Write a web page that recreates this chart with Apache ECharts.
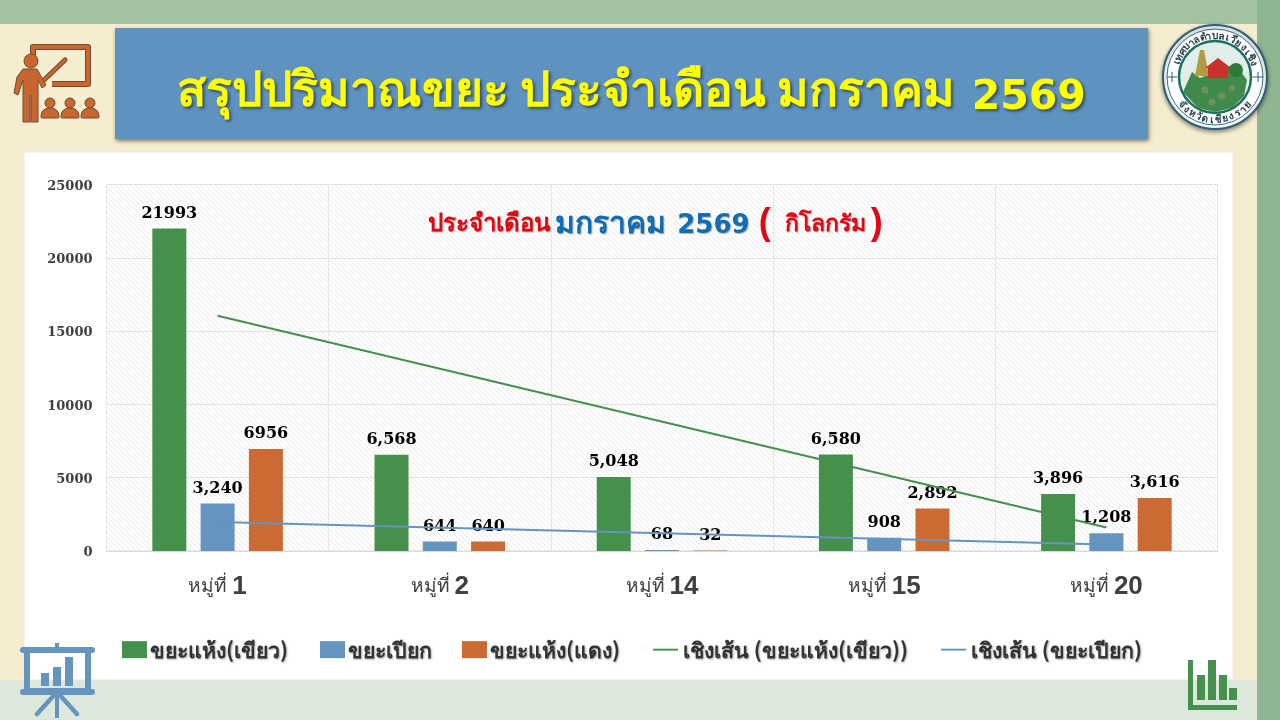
<!DOCTYPE html>
<html><head><meta charset="utf-8">
<style>html,body{margin:0;padding:0;background:#a3c2a1;overflow:hidden}#c{width:1280px;height:720px}</style>
<script src="https://cdn.jsdelivr.net/npm/echarts@6/dist/echarts.min.js"></script></head>
<body><div id="c"></div>
<script>
var categories=['1','2','14','15','20'];
var dryGreen=[21993,6568,5048,6580,3896];
var wet=[3240,644,68,908,1208];
var dryRed=[6956,640,32,2892,3616];
var dryGreenLabels=['21993','6,568','5,048','6,580','3,896'];
var wetLabels=['3,240','644','68','908','1,208'];
var dryRedLabels=['6956','640','32','2,892','3,616'];
var trendGreen=[16050,null,null,null,1600];
var trendWet=[1970,null,null,null,450];
var names=['ขยะแห้ง(เขียว)','ขยะเปียก','ขยะแห้ง(แดง)','เชิงเส้น (ขยะแห้ง(เขียว))','เชิงเส้น (ขยะเปียก)'];
var legendLeft=[117,315,457,648,936];
var THAI='Noto Sans CJK SC, Noto Sans';
var GREEN='#46904e',BLUE='#6595bf',ORANGE='#cb6a33';

var hatch=document.createElement('canvas');hatch.width=5;hatch.height=5;
var hc=hatch.getContext('2d');hc.fillStyle='#ffffff';hc.fillRect(0,0,5,5);hc.strokeStyle='#e9e9e9';hc.lineWidth=1;
hc.beginPath();hc.moveTo(-1,-1);hc.lineTo(6,6);hc.moveTo(-1,4);hc.lineTo(1,6);hc.moveTo(4,-1);hc.lineTo(6,1);hc.stroke();

function bar(i,vals,labels,color){return {name:names[i],type:'bar',data:vals,barWidth:34,barGap:'42%',itemStyle:{color:color},z:2,
 label:{show:true,position:'top',distance:7,color:'#000',fontFamily:'DejaVu Serif',fontWeight:'bold',fontSize:16,formatter:function(p){return labels[p.dataIndex];}}};}
function trend(i,vals,color){return {name:names[i],type:'line',data:vals,connectNulls:true,symbol:'none',silent:true,z:4,lineStyle:{color:color,width:2},itemStyle:{color:color}};}

// decorative artwork
var deco=[];
function add(type,shape,style,z){deco.push({type:type,silent:true,z:z===undefined?6:z,shape:shape,style:style});}
var OR='#c9662f',DK='#6f4b36';
add('polyline',{points:[[33,57],[33,47],[88,47],[88,84],[52,84]]},{stroke:DK,lineWidth:6,fill:null,lineJoin:'round'});
add('polyline',{points:[[33,57],[33,47],[88,47],[88,84],[52,84]]},{stroke:OR,lineWidth:4,fill:null,lineJoin:'round'});
add('line',{x1:44,y1:80,x2:65,y2:60},{stroke:DK,lineWidth:5,lineCap:'round'});
add('line',{x1:44,y1:80,x2:65,y2:60},{stroke:OR,lineWidth:3,lineCap:'round'});
add('polygon',{points:[[23,69],[37,69],[46,85],[42,88],[38,80],[38,122],[31,122],[31,95],[30,95],[30,122],[23,122],[23,80],[18,95],[14,93],[17,77]]},{fill:OR,stroke:DK,lineWidth:1});
add('circle',{cx:31,cy:61,r:7},{fill:OR,stroke:DK,lineWidth:1});
[50,70,90].forEach(function(x){
 add('circle',{cx:x,cy:103,r:5},{fill:OR,stroke:DK,lineWidth:1});
 add('rect',{x:x-9,y:108,width:18,height:10,r:[8,8,1,1]},{fill:OR,stroke:DK,lineWidth:1});
});
// presentation icon
add('line',{x1:57,y1:643,x2:57,y2:649},{stroke:BLUE,lineWidth:4});
add('line',{x1:57,y1:692,x2:57,y2:718},{stroke:BLUE,lineWidth:4});
add('rect',{x:27,y:650,width:61,height:41},{fill:null,stroke:BLUE,lineWidth:6});
add('rect',{x:20,y:647,width:75,height:6,r:3},{fill:BLUE});
add('rect',{x:20,y:689,width:75,height:6,r:3},{fill:BLUE});
add('line',{x1:57,y1:692,x2:37,y2:714},{stroke:BLUE,lineWidth:4.5,lineCap:'round'});
add('line',{x1:57,y1:692,x2:77,y2:714},{stroke:BLUE,lineWidth:4.5,lineCap:'round'});
[[41,673,13],[53,667,19],[65,657,29]].forEach(function(b){add('rect',{x:b[0],y:b[1],width:8,height:b[2]},{fill:BLUE});});
// bars icon
add('rect',{x:1188,y:660,width:5,height:50},{fill:GREEN});
add('rect',{x:1188,y:705,width:49,height:5},{fill:GREEN});
[[1197,675],[1208,660],[1219,675],[1229,688]].forEach(function(b){add('rect',{x:b[0],y:b[1],width:8,height:700-b[1]},{fill:GREEN});});
// seal
var CX=1215,CY=77;
add('circle',{cx:CX,cy:CY,r:52},{fill:'#ffffff',stroke:'#2f5f78',lineWidth:2,shadowBlur:4,shadowColor:'rgba(0,0,0,0.4)',shadowOffsetY:2});
add('circle',{cx:CX,cy:CY,r:48},{fill:null,stroke:'#2f6f80',lineWidth:1});
add('circle',{cx:CX,cy:CY,r:36},{fill:'#dfeee6',stroke:'#1f6f5f',lineWidth:2.5});
add('polygon',{points:[[1183,92],[1192,72],[1200,78],[1215,72],[1235,64],[1247,80],[1244,96],[1232,108],[1215,112],[1198,108]]},{fill:'#3f8a4a'});
add('polygon',{points:[[1195,76],[1200,50],[1204,50],[1209,76]]},{fill:'#b59a45'});
add('rect',{x:1208,y:67,width:20,height:11},{fill:'#c7332b'});
add('polygon',{points:[[1205,68],[1218,58],[1231,68]]},{fill:'#c7332b'});
add('circle',{cx:1236,cy:70,r:7},{fill:'#2f7a3a'});
[[1205,90],[1222,96],[1212,102],[1232,88]].forEach(function(p){add('circle',{cx:p[0],cy:p[1],r:3.5},{fill:'#6f8f5f'});});
[CX-43,CX+43].forEach(function(x){
 add('line',{x1:x-5,y1:CY,x2:x+5,y2:CY},{stroke:'#2f5f78',lineWidth:1});
 add('line',{x1:x,y1:CY-5,x2:x,y2:CY+5},{stroke:'#2f5f78',lineWidth:1});
});
function arcText(txt,a0,a1,r,flip){
 var cl=txt.match(/.[\u0E31\u0E34-\u0E3A\u0E47-\u0E4E]*/g);
 cl.forEach(function(c,i){
  var a=(a0+(a1-a0)*i/(cl.length-1))*Math.PI/180;
  deco.push({type:'text',silent:true,z:7,x:CX+r*Math.cos(a),y:CY+r*Math.sin(a),rotation:flip?-(a-Math.PI/2):-(a+Math.PI/2),
   style:{text:c,fill:'#27404f',fontSize:10,fontWeight:'bold',fontFamily:THAI,align:'center',verticalAlign:'middle'}});
 });
}
arcText('เทศบาลตำบลเวียงเชิง',-160,-20,42,false);
arcText('จังหวัดเชียงราย',140,40,42,true);

var sh={textShadowColor:'rgba(0,0,0,0.3)',textShadowBlur:1,textShadowOffsetX:1,textShadowOffsetY:1};
function st(o){return Object.assign({},sh,o);}
var legends=names.map(function(n,i){return {left:legendLeft[i],top:634,itemWidth:25,itemHeight:17,
  data:[{name:n,icon:i<3?'rect':'path://M0 0H26V2H0Z'}],
  textStyle:{color:'#333',fontSize:21.3,fontWeight:'bold',fontFamily:THAI,padding:[0,0,0,i<3?-2:0],textShadowColor:'rgba(0,0,0,0.35)',textShadowBlur:2,textShadowOffsetX:1,textShadowOffsetY:1}};});

var chart=echarts.init(document.getElementById('c'),null,{renderer:'canvas'});
chart.setOption({
 animation:false,
 backgroundColor:'#a3c2a1',
 grid:{left:106.5,right:62.5,top:184.5,bottom:169,show:true,backgroundColor:{image:hatch,repeat:'repeat'},borderColor:'#dcdcdc',borderWidth:1},
 title:{show:true,left:428,top:202,padding:0,text:'{a|ประจำเดือน }{b|มกราคม }{d|2569 }{c|(}{e|กิโลกรัม}{f|)}',
  textStyle:{rich:{a:st({color:'#e30613',fontSize:24,fontWeight:'bold',fontFamily:THAI}),
   b:st({color:'#0e6db3',fontSize:30,fontWeight:'bold',fontFamily:THAI}),
   d:st({color:'#0e6db3',fontSize:26,fontWeight:'bold',fontFamily:'DejaVu Sans',padding:[8,0,0,4]}),
   e:st({color:'#e30613',fontSize:23,fontWeight:'bold',fontFamily:THAI,padding:[0,0,0,14]}),
   c:{color:'#e30613',fontSize:36,fontWeight:'bold',fontFamily:'Liberation Sans',padding:[4,0,0,0]},
   f:{color:'#e30613',fontSize:36,fontWeight:'bold',fontFamily:'Liberation Sans',padding:[4,0,0,5]}}}},
 legend:legends,
 xAxis:{type:'category',data:categories,axisLine:{lineStyle:{color:'#d9d9d9'}},axisTick:{show:false},splitLine:{show:true,lineStyle:{color:'#e6e6e6'}},
  axisLabel:{margin:23,formatter:function(v){return '{t|หมู่ที่ }{n|'+v+'}';},rich:{t:{fontSize:19,color:'#404040',fontFamily:'Noto Sans'},n:{fontSize:26,fontWeight:'bold',color:'#404040',fontFamily:'Liberation Sans'}}}},
 yAxis:{type:'value',min:0,max:25000,interval:5000,axisLine:{show:false},axisTick:{show:false},splitLine:{lineStyle:{color:'#e2e2e2'}},
  axisLabel:{margin:14,formatter:function(v){return '{v|'+v+'}';},rich:{v:{color:'#404040',fontSize:13,fontWeight:'bold',fontFamily:'DejaVu Serif',padding:[4,0,0,0]}}}},
 series:[bar(0,dryGreen,dryGreenLabels,GREEN),bar(1,wet,wetLabels,BLUE),bar(2,dryRed,dryRedLabels,ORANGE),trend(3,trendGreen,GREEN),trend(4,trendWet,BLUE)],
 graphic:{elements:[
  {type:'rect',z:-11,silent:true,shape:{x:1257,y:0,width:23,height:720},style:{fill:'#8fb592'}},
  {type:'rect',z:-10,silent:true,shape:{x:0,y:24,width:1257,height:656},style:{fill:'#f4edcf'}},
  {type:'rect',z:-9,silent:true,shape:{x:0,y:680,width:1257,height:40},style:{fill:'#dce8dc'}},
  {type:'rect',z:-8,silent:true,shape:{x:24,y:152,width:1209,height:528},style:{fill:'#ffffff',stroke:'#ece8d8',lineWidth:1}},
  {type:'rect',z:-7,silent:true,shape:{x:115,y:28,width:1033,height:111},style:{fill:'#5f92bf',shadowBlur:4,shadowColor:'rgba(0,0,0,0.5)',shadowOffsetX:1,shadowOffsetY:2}},
  {type:'text',z:5,silent:true,x:177,y:88,style:{text:'{t|สรุปปริมาณขยะ ประจำเดือน มกราคม }{n|2569}',align:'left',verticalAlign:'middle',
    rich:{t:{fill:'#ffff00',fontSize:48,fontWeight:'bold',fontFamily:THAI,textShadowColor:'rgba(0,0,0,0.5)',textShadowBlur:3,textShadowOffsetX:2,textShadowOffsetY:2},
          n:{fill:'#ffff00',fontSize:41,fontWeight:'bold',fontFamily:'DejaVu Sans',padding:[20,0,0,6],textShadowColor:'rgba(0,0,0,0.5)',textShadowBlur:3,textShadowOffsetX:2,textShadowOffsetY:2}}}}
 ].concat(deco)}
});
</script></body></html>
